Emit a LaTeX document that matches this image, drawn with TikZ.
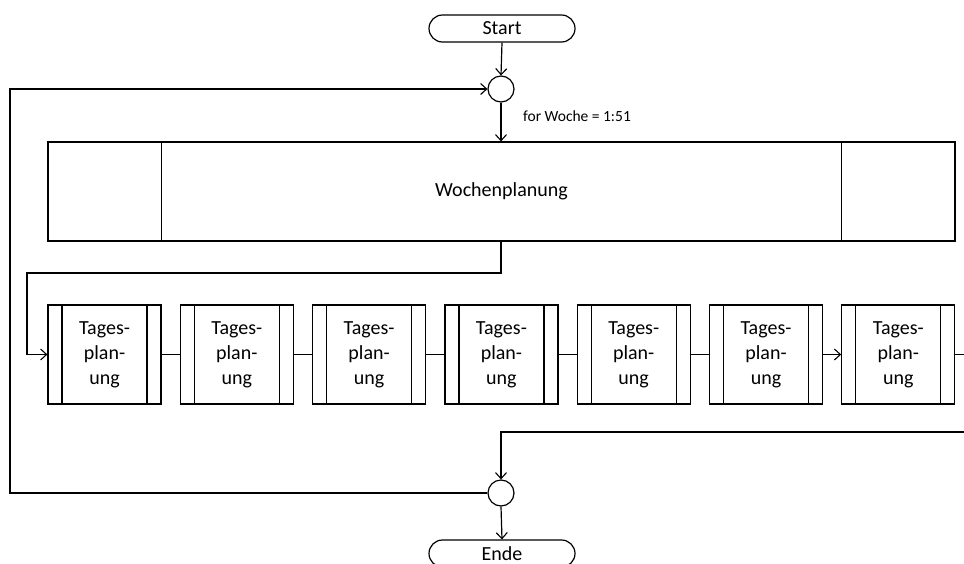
\documentclass[tikz,border=0pt]{standalone}
\usepackage{fontspec}
\setmainfont{Carlito}
\usetikzlibrary{arrows.meta,shapes.misc}
\tikzset{
  ln/.style={line width=1.2pt,draw=black},
  arr/.style={ln,-{Straight Barb[length=6pt,width=11pt,line width=1.1pt]}},
  term/.style={ln,rounded rectangle,minimum width=146pt,minimum height=27pt,inner sep=0pt,font=\fontsize{20}{24}\selectfont},
  junc/.style={ln,circle,minimum size=26pt,inner sep=0pt},
  daybox/.style={ln,rectangle,minimum width=113pt,minimum height=99pt,inner sep=0pt,align=center,
    font=\fontsize{20}{25}\selectfont,
    path picture={
      \draw[line width=1.2pt] ([xshift=14pt]path picture bounding box.north west) -- ([xshift=14pt]path picture bounding box.south west);
      \draw[line width=1.2pt] ([xshift=-14pt]path picture bounding box.north east) -- ([xshift=-14pt]path picture bounding box.south east);
    }},
  weekbox/.style={ln,rectangle,minimum width=907pt,minimum height=99pt,inner sep=0pt,
    font=\fontsize{20}{25}\selectfont,
    path picture={
      \draw[line width=1.2pt] ([xshift=113.5pt]path picture bounding box.north west) -- ([xshift=113.5pt]path picture bounding box.south west);
      \draw[line width=1.2pt] ([xshift=-113.5pt]path picture bounding box.north east) -- ([xshift=-113.5pt]path picture bounding box.south east);
    }},
  lbl/.style={font=\fontsize{15.5}{18}\selectfont,inner sep=0pt,anchor=west}
}
\begin{document}
\begin{tikzpicture}[x=1pt,y=-1pt]
\useasboundingbox (0,0) rectangle (964,563);
\node[term] (start) at (502,28.5) {Start};
\node[junc] (c1) at (501,89) {};
\node[weekbox] (W) at (501.5,191.5) {Wochenplanung};
\node[lbl] (lab) at (523,116.5) {for Woche = 1:51};
\foreach \i in {1,...,7}{
  \node[daybox] (D\i) at ({104.5+132.3*(\i-1)},354.5) {Tages-\\plan-\\ung};
}
\node[junc] (c2) at (501,493) {};
\node[term] (ende) at (502,553.5) {Ende};
\coordinate (L) at (10,0);
\coordinate (K) at (27,273);
\coordinate (R1) at (964,354.5);
\coordinate (R2) at (964,432);
% flow
\draw[arr] (start.south) -- (c1.north);
\draw[arr] (c1.south) -- (c1.south |- W.north);
\draw[arr] (c1 |- W.south) -- (c1 |- K) -- (K) -- (K |- D1.west) -- (D1.west);
\foreach \a/\b in {1/2,2/3,3/4,4/5,5/6}{
  \draw[ln] (D\a.east) -- (D\b.west);
}
\draw[arr] (D6.east) -- (D7.west);
\draw[ln] (D7.east) -- (R1);
\draw[arr] (R2) -- (c2 |- R2) -- (c2.north);
\draw[arr] (c2.south) -- (ende.north);
\draw[arr] (c2.west) -- (c2.west -| L) -- (c1.west -| L) -- (c1.west);
\end{tikzpicture}
\end{document}
